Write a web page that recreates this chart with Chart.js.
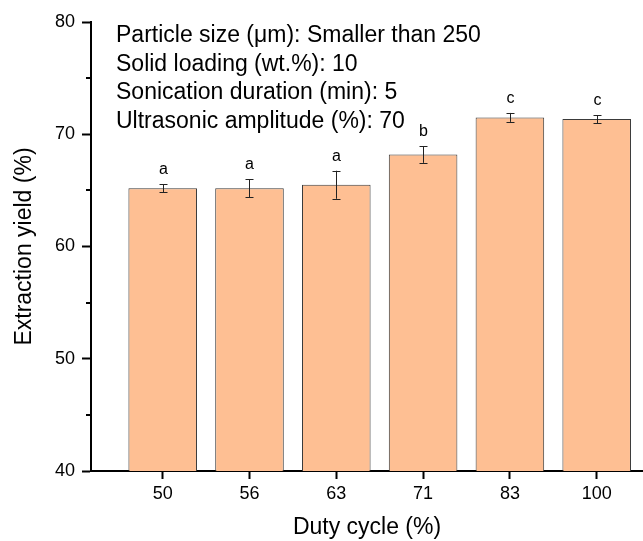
<!DOCTYPE html>
<html><head><meta charset="utf-8">
<script src="https://cdn.jsdelivr.net/npm/chart.js@4.4.1/dist/chart.umd.min.js"></script>
<style>html,body{margin:0;padding:0;background:#fff;overflow:hidden}#wrap{width:643px;height:541px;position:relative;background:#fff}</style>
</head><body><div id="wrap"><canvas id="c" width="643" height="541"></canvas></div>
<script>
const categories = ['50', '56', '63', '71', '83', '100'];
const yieldValues = [65.2, 65.2, 65.5, 68.2, 71.5, 71.35];
const yieldErrors = [0.35, 0.8, 1.25, 0.75, 0.4, 0.36];
const groupLetters = ['a', 'a', 'a', 'b', 'c', 'c'];
const yTicks = [40, 50, 60, 70, 80];
const yMinorTicks = [45, 55, 65, 75];
const noteLines = [
  'Particle size (μm): Smaller than 250',
  'Solid loading (wt.%): 10',
  'Sonication duration (min): 5',
  'Ultrasonic amplitude (%): 70'
];

const FONT = "'Liberation Sans', Arial, sans-serif";
Chart.defaults.font.family = FONT;
Chart.defaults.color = '#000';

const extras = {
  id: 'extras',
  afterDatasetsDraw(chart) {
    const ctx = chart.ctx;
    const xs = chart.scales.x, ys = chart.scales.y;
    ctx.save();
    ctx.strokeStyle = '#222';
    ctx.lineWidth = 1;
    ctx.fillStyle = '#000';
    ctx.font = '16px ' + FONT;
    ctx.textAlign = 'center';
    ctx.textBaseline = 'alphabetic';
    yieldValues.forEach((v, i) => {
      const x = Math.round(xs.getPixelForValue(i + 1)) + 0.5;
      const yt = ys.getPixelForValue(v + yieldErrors[i]);
      const yb = ys.getPixelForValue(v - yieldErrors[i]);
      ctx.beginPath();
      ctx.moveTo(x, yt); ctx.lineTo(x, yb);
      ctx.moveTo(x - 4, Math.round(yt) + 0.5); ctx.lineTo(x + 4, Math.round(yt) + 0.5);
      ctx.moveTo(x - 4, Math.round(yb) + 0.5); ctx.lineTo(x + 4, Math.round(yb) + 0.5);
      ctx.stroke();
      ctx.fillText(groupLetters[i], x, yt - 10);
    });
    ctx.restore();
  },
  afterDraw(chart) {
    const ctx = chart.ctx;
    const ys = chart.scales.y;
    const left = chart.chartArea.left;
    ctx.save();
    ctx.strokeStyle = '#000';
    ctx.lineWidth = 2;
    yMinorTicks.forEach(t => {
      const y = Math.round(ys.getPixelForValue(t));
      ctx.beginPath();
      ctx.moveTo(left - 5, y); ctx.lineTo(left, y);
      ctx.stroke();
    });
    ctx.fillStyle = '#000';
    ctx.font = '23px ' + FONT;
    ctx.textAlign = 'left';
    ctx.textBaseline = 'alphabetic';
    const baselines = [42, 70.5, 99, 127.5];
    noteLines.forEach((t, i) => ctx.fillText(t, 116, baselines[i]));
    ctx.restore();
  }
};

new Chart(document.getElementById('c'), {
  type: 'bar',
  data: {
    datasets: [{
      data: yieldValues.map((v, i) => ({ x: i + 1, y: v })),
      backgroundColor: '#FEBF93',
      borderColor: '#3a3a3a',
      borderWidth: 1,
      borderSkipped: 'bottom',
      categoryPercentage: 0.79,
      barPercentage: 1
    }]
  },
  options: {
    responsive: false,
    devicePixelRatio: 1,
    animation: false,
    layout: { padding: { top: 22, left: 0, right: 0, bottom: 0 } },
    plugins: { legend: { display: false }, tooltip: { enabled: false } },
    scales: {
      x: {
        type: 'linear',
        offset: false,
        min: 0.174,
        max: 0.174 + 552 / 86.8,
        afterBuildTicks(scale) { scale.ticks = categories.map((c, i) => ({ value: i + 1 })); },
        afterFit(scale) { scale.height = 70; },
        ticks: {
          font: { size: 18 },
          padding: 4,
          maxRotation: 0,
          autoSkip: false,
          callback: (v) => categories[Math.round(v) - 1]
        },
        grid: { display: true, drawOnChartArea: false, drawTicks: true, tickLength: 8, tickWidth: 2, tickColor: '#000', offset: false },
        border: { display: true, color: '#000', width: 2 },
        title: { display: true, text: 'Duty cycle (%)', font: { size: 23 }, padding: { top: 0, bottom: 0 } }
      },
      y: {
        min: 40,
        max: 80,
        afterBuildTicks(scale) { scale.ticks = yTicks.map(v => ({ value: v })); },
        afterFit(scale) { scale.width = 91; },
        ticks: { font: { size: 18 }, padding: 7, stepSize: 10 },
        grid: { display: true, drawOnChartArea: false, drawTicks: true, tickLength: 9, tickWidth: 2, tickColor: '#000' },
        border: { display: true, color: '#000', width: 2 },
        title: { display: true, text: 'Extraction yield (%)', font: { size: 23 }, padding: { top: 11.2, bottom: 0 } }
      }
    }
  },
  plugins: [extras]
});
</script></body></html>
